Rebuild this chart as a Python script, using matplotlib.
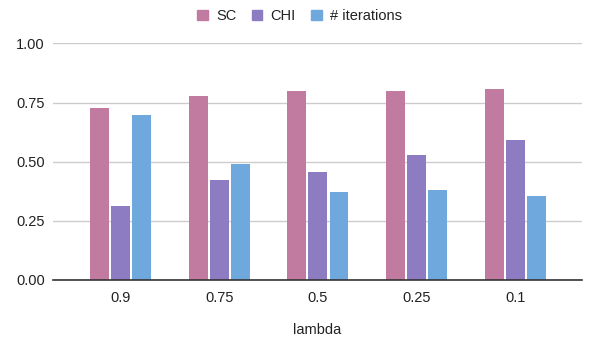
import numpy as np
import matplotlib
matplotlib.use("Agg")
import matplotlib.pyplot as plt
from matplotlib.patches import Patch

plt.rcParams["font.family"] = ["Liberation Sans", "DejaVu Sans"]

# datos
lambdas = ["0.9", "0.75", "0.5", "0.25", "0.1"]
sc = [0.726, 0.776, 0.80, 0.80, 0.806]
chi = [0.312, 0.422, 0.456, 0.527, 0.591]
iters = [0.696, 0.489, 0.371, 0.380, 0.354]
series = ["SC", "CHI", "# iterations"]
colores = ["#c27ba0", "#8e7cc3", "#6fa8dc"]

fig = plt.figure(figsize=(5.99, 3.4), dpi=100)
ax = fig.add_axes([0.0885, 0.1765, 0.883, 0.696])

x = np.arange(len(lambdas))
ancho = 0.192
paso = 0.213
for i, (vals, c) in enumerate(zip([sc, chi, iters], colores)):
    ax.bar(x + (i - 1) * paso, vals, width=ancho, color=c, zorder=2)

ax.set_xlim(-0.684, 4.674)
ax.set_ylim(0, 1)
ax.set_yticks([0, 0.25, 0.5, 0.75, 1.0])
ax.set_yticklabels(["0.00", "0.25", "0.50", "0.75", "1.00"])
ax.set_xticks(x)
ax.set_xticklabels(lambdas)
ax.tick_params(axis="both", length=0, labelsize=10.5, colors="#222222")
ax.tick_params(axis="x", pad=8)
ax.tick_params(axis="y", pad=6)
ax.grid(axis="y", color="#cccccc", linewidth=1, zorder=0)
for s in ["top", "right", "left"]:
    ax.spines[s].set_visible(False)
ax.spines["bottom"].set_color("#333333")
ax.spines["bottom"].set_linewidth(1.2)
ax.spines["bottom"].set_zorder(3)
ax.set_xlabel("lambda", fontsize=10.5, color="#222222", labelpad=13)

handles = [Patch(facecolor=c, edgecolor=c) for c in colores]
fig.legend(handles, series, loc="upper center", bbox_to_anchor=(0.5, 1.012), ncol=3,
           frameon=False, fontsize=10.5, handlelength=0.75, handleheight=0.75,
           handletextpad=0.55, columnspacing=1.05, labelcolor="#222222")

fig.savefig("out.png", dpi=100)
